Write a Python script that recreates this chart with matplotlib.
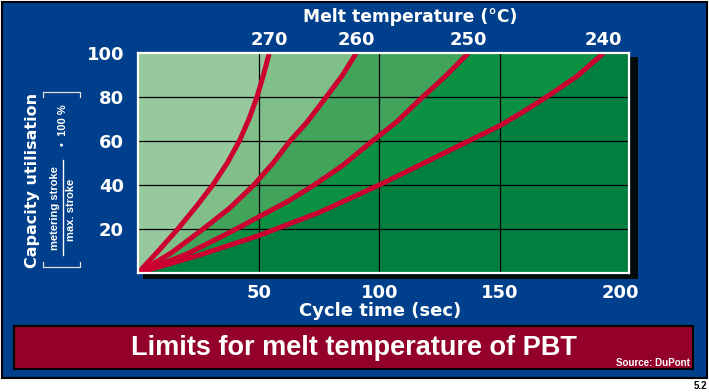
import numpy as np
import matplotlib.pyplot as plt
from matplotlib.patches import Rectangle
from matplotlib.lines import Line2D

# curves: cycle time (sec) vs capacity utilisation (%)
temps = ["270", "260", "250", "240"]
x270 = [0, 8, 16.5, 24, 31, 37, 42, 46, 49.3, 52, 54.4]
y270 = [0, 9.5, 20, 30, 40, 50, 60, 70, 80, 90, 100]
x260 = [0, 14, 27, 38, 48, 56, 63, 70, 78, 84.5, 90.5]
y260 = [0, 9.3, 20, 29.5, 40, 50, 60, 68.5, 80, 89.5, 100]
x250 = [0, 20, 39, 50, 62, 73, 85, 96, 107, 117, 127, 137]
y250 = [0, 8.5, 19, 25.5, 32.5, 40, 49, 59, 68.5, 79, 89, 100]
x240 = [0, 25, 50, 75, 100, 125, 150, 160, 170, 182, 193]
y240 = [0, 8, 17, 27.5, 40, 53.5, 67, 73.5, 80.5, 89.5, 100]

xticks = [50, 100, 150, 200]
yticks = [20, 40, 60, 80, 100]

W, H = 709, 392
navy = '#003f8c'
red = '#cc0030'
greens = ['#96c99c', '#80c088', '#42a35a', '#0c9142', '#00803f']
xmax = 203.5

plt.rcParams['font.family'] = ['DejaVu Sans']
plt.rcParams['font.weight'] = 'bold'
narrow = ['Liberation Sans', 'DejaVu Sans']

fig = plt.figure(figsize=(W / 100, H / 100), dpi=100)
fig.patch.set_facecolor('white')


def fx(px):
    return px / W


def fy(py):
    return 1 - py / H


# navy panel, shadow, title box
fig.patches.append(Rectangle((fx(2), fy(378)), fx(705), 376 / H, transform=fig.transFigure,
                             facecolor=navy, edgecolor='black', lw=1.5, zorder=0))
fig.patches.append(Rectangle((fx(143), fy(279)), fx(495), 222 / H, transform=fig.transFigure,
                             facecolor='#000c0c', edgecolor='none', zorder=1))
fig.patches.append(Rectangle((fx(14), fy(369)), fx(679), 43 / H, transform=fig.transFigure,
                             facecolor='#930029', edgecolor='black', lw=1.5, zorder=1))

ax = fig.add_axes([fx(138), fy(273), fx(491), 220 / H])
ax.set_zorder(3)
ax.set_xlim(0, xmax)
ax.set_ylim(0, 100)

curves = [(x270, y270), (x260, y260), (x250, y250), (x240, y240)]

# shaded bands between the curves
ax.fill([0] + x270 + [0], [0] + y270 + [100], color=greens[0], lw=0, zorder=1)
for i in range(3):
    xa, ya = curves[i]
    xb, yb = curves[i + 1]
    ax.fill(xa + xb[::-1], ya + yb[::-1], color=greens[i + 1], lw=0, zorder=1)
ax.fill(x240 + [xmax, xmax], y240 + [100, 0], color=greens[4], lw=0, zorder=1)

for v in [50, 100, 150]:
    ax.axvline(v, color='black', lw=0.9, zorder=2)
for v in [20, 40, 60, 80]:
    ax.axhline(v, color='black', lw=0.9, zorder=2)

for (xs, ys), t in zip(curves, temps):
    ax.plot(xs, ys, color=red, lw=3.6, solid_capstyle='butt', solid_joinstyle='round',
            zorder=3)
    ax.text(xs[-1], 106, t, color='white', fontsize=13, ha='center', va='center',
            fontweight='bold', clip_on=False)

for s in ax.spines.values():
    s.set_color('white')
    s.set_linewidth(1.6)
    s.set_zorder(4)
ax.set_xticks(xticks)
ax.set_yticks(yticks)
ax.tick_params(length=0, colors='white', labelsize=13)
ax.tick_params(axis='x', pad=8)
ax.tick_params(axis='y', pad=10)
for lab in ax.get_xticklabels() + ax.get_yticklabels():
    lab.set_fontweight('bold')

fig.text(fx(410), fy(17), 'Melt temperature (\u00b0C)', color='white', fontsize=12.3,
         ha='center', va='center')
fig.text(fx(380), fy(311), 'Cycle time (sec)', color='white', fontsize=13,
         ha='center', va='center')

# y-axis label with bracketed fraction
fig.text(fx(33), fy(180), 'Capacity utilisation', color='white', fontsize=11.5,
         rotation=90, ha='center', va='center')
fig.text(fx(55), fy(208), 'metering stroke', color='white', fontsize=8,
         rotation=90, ha='center', va='center', family=narrow)
fig.text(fx(71), fy(210), 'max. stroke', color='white', fontsize=8,
         rotation=90, ha='center', va='center', family=narrow)
fig.text(fx(63), fy(125), '\u2022  100 %', color='white', fontsize=8,
         rotation=90, ha='center', va='center', family=narrow)
bc = '#e0e0e0'
fig.lines.append(Line2D([fx(62.5), fx(62.5)], [fy(160), fy(255)], transform=fig.transFigure,
                        color='white', lw=1))
for yb, d in [(92, 5), (267, -5)]:
    fig.lines.append(Line2D([fx(43), fx(43), fx(80), fx(80)],
                            [fy(yb + d), fy(yb), fy(yb), fy(yb + d)],
                            transform=fig.transFigure, color=bc, lw=0.9))

fig.text(fx(354), fy(348), 'Limits for melt temperature of PBT', color='white',
         fontsize=19.5, ha='center', va='center', family=narrow)
fig.text(fx(690), fy(366), 'Source: DuPont', color='white', fontsize=7,
         ha='right', va='baseline', family=narrow)
fig.text(fx(707), fy(386), '5.2', color='black', fontsize=7, ha='right', va='center',
         family=narrow)

fig.savefig('out.png', dpi=100, facecolor='white')
